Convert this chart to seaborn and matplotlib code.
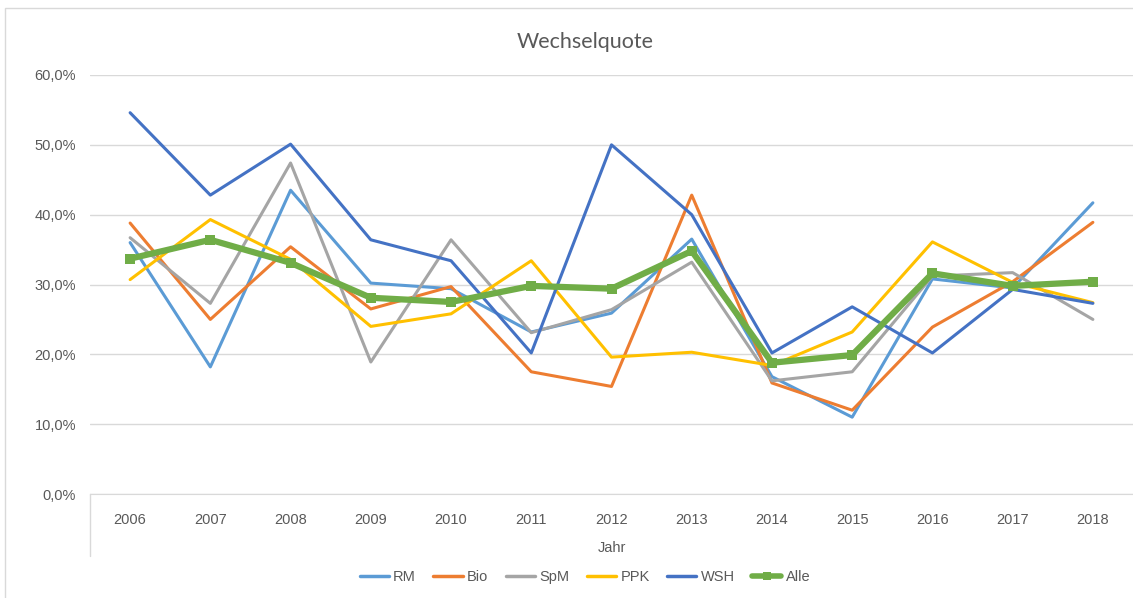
import numpy as np
import pandas as pd
import matplotlib
matplotlib.use("Agg")
import matplotlib.pyplot as plt
import seaborn as sns
from matplotlib.lines import Line2D
from matplotlib.patches import Rectangle
from matplotlib.ticker import FuncFormatter

years = [str(y) for y in range(2006, 2019)]

rm  = [36.0, 18.2, 43.5, 30.2, 29.4, 23.2, 25.9, 36.5, 16.8, 11.0, 30.8, 29.5, 41.7]
bio = [38.8, 25.0, 35.4, 26.5, 29.7, 17.5, 15.4, 42.8, 15.9, 12.0, 23.9, 30.4, 38.9]
spm = [36.7, 27.3, 47.4, 18.9, 36.4, 23.1, 26.4, 33.2, 16.2, 17.5, 31.2, 31.7, 25.0]
ppk = [30.7, 39.3, 33.6, 24.0, 25.8, 33.4, 19.6, 20.3, 18.4, 23.2, 36.1, 30.3, 27.4]
wsh = [54.6, 42.8, 50.1, 36.4, 33.4, 20.2, 50.0, 40.0, 20.2, 26.8, 20.2, 29.3, 27.3]
alle = [33.7, 36.4, 33.1, 28.1, 27.5, 29.8, 29.4, 34.8, 18.8, 19.9, 31.6, 29.8, 30.4]

series_names = ["RM", "Bio", "SpM", "PPK", "WSH", "Alle"]
series_values = [rm, bio, spm, ppk, wsh, alle]
colors = ["#5B9BD5", "#ED7D31", "#A5A5A5", "#FFC000", "#4472C4", "#70AD47"]

df = pd.DataFrame({
    "Jahr": np.tile(np.arange(len(years)), len(series_names)),
    "Quote": np.concatenate(series_values),
    "Reihe": np.repeat(series_names, len(years)),
})

sns.set_style("white")
plt.rcParams["font.family"] = ["Liberation Sans", "DejaVu Sans"]

fig = plt.figure(figsize=(11.33, 5.98), dpi=100)
ax = fig.add_axes([90 / 1133, 1 - 494 / 598, 1043 / 1133, 419 / 598])

for name, col in zip(series_names, colors):
    sub = df[df["Reihe"] == name]
    if name == "Alle":
        sns.lineplot(data=sub, x="Jahr", y="Quote", ax=ax, color=col, lw=4.5,
                     marker="s", markersize=7, markeredgewidth=0, zorder=5)
    else:
        sns.lineplot(data=sub, x="Jahr", y="Quote", ax=ax, color=col, lw=2.2, zorder=3)

ax.set_xlim(-0.5, len(years) - 0.5)
ax.set_ylim(0, 60)
ax.set_yticks(np.arange(0, 61, 10))
ax.yaxis.set_major_formatter(FuncFormatter(lambda v, p: f"{v:.1f}%".replace(".", ",")))
ax.set_xticks(np.arange(len(years)))
ax.set_xticklabels(years)
ax.grid(axis="y", color="#D9D9D9", lw=1)
for s in ["top", "right", "left"]:
    ax.spines[s].set_visible(False)
ax.spines["bottom"].set_color("#D9D9D9")
ax.tick_params(axis="both", length=0, labelsize=10.5, colors="#595959")
ax.tick_params(axis="x", pad=14)
ax.tick_params(axis="y", pad=10)
ax.set_xlabel("Jahr", fontsize=10.5, color="#595959", labelpad=10)
ax.set_ylabel("")
ax.legend_ = None

# category axis left boundary line
fig.add_artist(Line2D([90 / 1133, 90 / 1133], [1 - 494 / 598, 1 - 556 / 598],
                      color="#D9D9D9", lw=1))
# chart area border
fig.add_artist(Rectangle((5 / 1133, -0.01), 1.02, 1 - 8 / 598 + 0.01,
                         fill=False, edgecolor="#D9D9D9", lw=1))

fig.text(585 / 1133, 1 - 42 / 598, "Wechselquote", ha="center", va="center",
         fontsize=15.5, color="#595959", family=["Lato", "DejaVu Sans"])

handles = []
for name, col in zip(series_names, colors):
    if name == "Alle":
        handles.append(Line2D([], [], color=col, lw=4, marker="s", markersize=6, markeredgewidth=0))
    else:
        handles.append(Line2D([], [], color=col, lw=2.5))
fig.legend(handles, series_names, loc="center", bbox_to_anchor=(585 / 1133, 1 - 577 / 598),
           ncol=6, frameon=False, fontsize=10.5, labelcolor="#595959",
           handlelength=2.0, handletextpad=0.3, columnspacing=1.2)

fig.savefig("out.png", dpi=100)
